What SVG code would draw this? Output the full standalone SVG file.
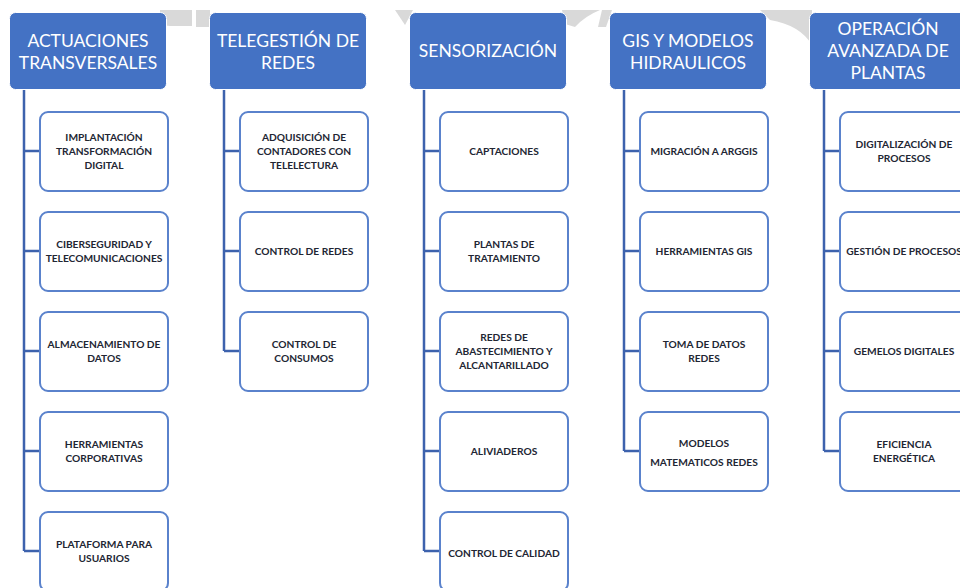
<svg xmlns="http://www.w3.org/2000/svg" width="960" height="588" viewBox="0 0 960 588">
<style>
.wm{fill:#d9d9d9}
.hdr{fill:#4472C4;stroke:#ffffff;stroke-width:1}
.ht{font-family:Lato,"Open Sans","Liberation Sans",sans-serif;font-size:17.5px;fill:#ffffff;text-anchor:middle}
.box{fill:#ffffff;stroke:#5A82CC;stroke-width:2}
.bt{font-family:Lato,"Open Sans","Liberation Sans",sans-serif;font-size:10.2px;font-weight:bold;fill:#222633;text-anchor:middle}
.ln{fill:none;stroke:#3D62AD;stroke-width:2.5}
</style>
<rect width="960" height="588" fill="#ffffff"/>
<g id="watermark">
<path class="wm" d="M160 10 H192 V26 H170 Q160 26 160 18 Z"/>
<rect class="wm" x="196" y="10" width="14" height="17"/>
<path class="wm" d="M395 10 H413 L405 25 Z"/>
<path class="wm" d="M562 10 H600 Q585 16 575 27 L565 24 Z"/>
<path class="wm" d="M602 10 H612 L606 27 L598 27 Z"/>
<path class="wm" d="M760 10 H812 V45 Q800 25 770 20 Z"/>
</g>
<g id="connectors">
<path class="ln" d="M24 89 V551 M24 151 H40 M24 251 H40 M24 351 H40 M24 451 H40 M24 551 H40"/>
<path class="ln" d="M224 89 V351 M224 151 H240 M224 251 H240 M224 351 H240"/>
<path class="ln" d="M424 89 V551 M424 151 H440 M424 251 H440 M424 351 H440 M424 451 H440 M424 551 H440"/>
<path class="ln" d="M624 89 V451 M624 151 H640 M624 251 H640 M624 351 H640 M624 451 H640"/>
<path class="ln" d="M824 89 V451 M824 151 H840 M824 251 H840 M824 351 H840 M824 451 H840"/>
</g>
<g id="h1"><rect class="hdr" x="9.5" y="12.5" width="157" height="77" rx="6"/><text class="ht" x="88" y="47">ACTUACIONES</text><text class="ht" x="88" y="69">TRANSVERSALES</text></g>
<g id="h2"><rect class="hdr" x="209.5" y="12.5" width="157" height="77" rx="6"/><text class="ht" x="288" y="47">TELEGESTIÓN DE</text><text class="ht" x="288" y="69">REDES</text></g>
<g id="h3"><rect class="hdr" x="409.5" y="12.5" width="157" height="77" rx="6"/><text class="ht" x="488" y="57">SENSORIZACIÓN</text></g>
<g id="h4"><rect class="hdr" x="609.5" y="12.5" width="157" height="77" rx="6"/><text class="ht" x="688" y="47">GIS Y MODELOS</text><text class="ht" x="688" y="69">HIDRAULICOS</text></g>
<g id="h5"><rect class="hdr" x="809.5" y="12.5" width="157" height="77" rx="6"/><text class="ht" x="888" y="35">OPERACIÓN</text><text class="ht" x="888" y="57">AVANZADA DE</text><text class="ht" x="888" y="79">PLANTAS</text></g>

<g id="c1a"><rect class="box" x="40" y="112" width="128" height="79" rx="8"/><text class="bt" x="104" y="140.5">IMPLANTACIÓN</text><text class="bt" x="104" y="154.5">TRANSFORMACIÓN</text><text class="bt" x="104" y="168.5">DIGITAL</text></g>
<g id="c1b"><rect class="box" x="40" y="212" width="128" height="79" rx="8"/><text class="bt" x="104" y="247.5">CIBERSEGURIDAD Y</text><text class="bt" x="104" y="261.5">TELECOMUNICACIONES</text></g>
<g id="c1c"><rect class="box" x="40" y="312" width="128" height="79" rx="8"/><text class="bt" x="104" y="347.5">ALMACENAMIENTO DE</text><text class="bt" x="104" y="361.5">DATOS</text></g>
<g id="c1d"><rect class="box" x="40" y="412" width="128" height="79" rx="8"/><text class="bt" x="104" y="447.5">HERRAMIENTAS</text><text class="bt" x="104" y="461.5">CORPORATIVAS</text></g>
<g id="c1e"><rect class="box" x="40" y="512" width="128" height="79" rx="8"/><text class="bt" x="104" y="547.5">PLATAFORMA PARA</text><text class="bt" x="104" y="561.5">USUARIOS</text></g>

<g id="c2a"><rect class="box" x="240" y="112" width="128" height="79" rx="8"/><text class="bt" x="304" y="140.5">ADQUISICIÓN DE</text><text class="bt" x="304" y="154.5">CONTADORES CON</text><text class="bt" x="304" y="168.5">TELELECTURA</text></g>
<g id="c2b"><rect class="box" x="240" y="212" width="128" height="79" rx="8"/><text class="bt" x="304" y="254.5">CONTROL DE REDES</text></g>
<g id="c2c"><rect class="box" x="240" y="312" width="128" height="79" rx="8"/><text class="bt" x="304" y="347.5">CONTROL DE</text><text class="bt" x="304" y="361.5">CONSUMOS</text></g>

<g id="c3a"><rect class="box" x="440" y="112" width="128" height="79" rx="8"/><text class="bt" x="504" y="154.5">CAPTACIONES</text></g>
<g id="c3b"><rect class="box" x="440" y="212" width="128" height="79" rx="8"/><text class="bt" x="504" y="247.5">PLANTAS DE</text><text class="bt" x="504" y="261.5">TRATAMIENTO</text></g>
<g id="c3c"><rect class="box" x="440" y="312" width="128" height="79" rx="8"/><text class="bt" x="504" y="340.5">REDES DE</text><text class="bt" x="504" y="354.5">ABASTECIMIENTO Y</text><text class="bt" x="504" y="368.5">ALCANTARILLADO</text></g>
<g id="c3d"><rect class="box" x="440" y="412" width="128" height="79" rx="8"/><text class="bt" x="504" y="454.5">ALIVIADEROS</text></g>
<g id="c3e"><rect class="box" x="440" y="512" width="128" height="79" rx="8"/><text class="bt" x="504" y="556.5">CONTROL DE CALIDAD</text></g>

<g id="c4a"><rect class="box" x="640" y="112" width="128" height="79" rx="8"/><text class="bt" x="704" y="154.5">MIGRACIÓN A ARGGIS</text></g>
<g id="c4b"><rect class="box" x="640" y="212" width="128" height="79" rx="8"/><text class="bt" x="704" y="254.5">HERRAMIENTAS GIS</text></g>
<g id="c4c"><rect class="box" x="640" y="312" width="128" height="79" rx="8"/><text class="bt" x="704" y="347.5">TOMA DE DATOS</text><text class="bt" x="704" y="361.5">REDES</text></g>
<g id="c4d"><rect class="box" x="640" y="412" width="128" height="79" rx="8"/><text class="bt" x="704" y="446.5">MODELOS</text><text class="bt" x="704" y="465.5">MATEMATICOS REDES</text></g>

<g id="c5a"><rect class="box" x="840" y="112" width="128" height="79" rx="8"/><text class="bt" x="904" y="147.5">DIGITALIZACIÓN DE</text><text class="bt" x="904" y="161.5">PROCESOS</text></g>
<g id="c5b"><rect class="box" x="840" y="212" width="128" height="79" rx="8"/><text class="bt" x="904" y="254.5">GESTIÓN DE PROCESOS</text></g>
<g id="c5c"><rect class="box" x="840" y="312" width="128" height="79" rx="8"/><text class="bt" x="904" y="354.5">GEMELOS DIGITALES</text></g>
<g id="c5d"><rect class="box" x="840" y="412" width="128" height="79" rx="8"/><text class="bt" x="904" y="447.5">EFICIENCIA</text><text class="bt" x="904" y="461.5">ENERGÉTICA</text></g>
</svg>
